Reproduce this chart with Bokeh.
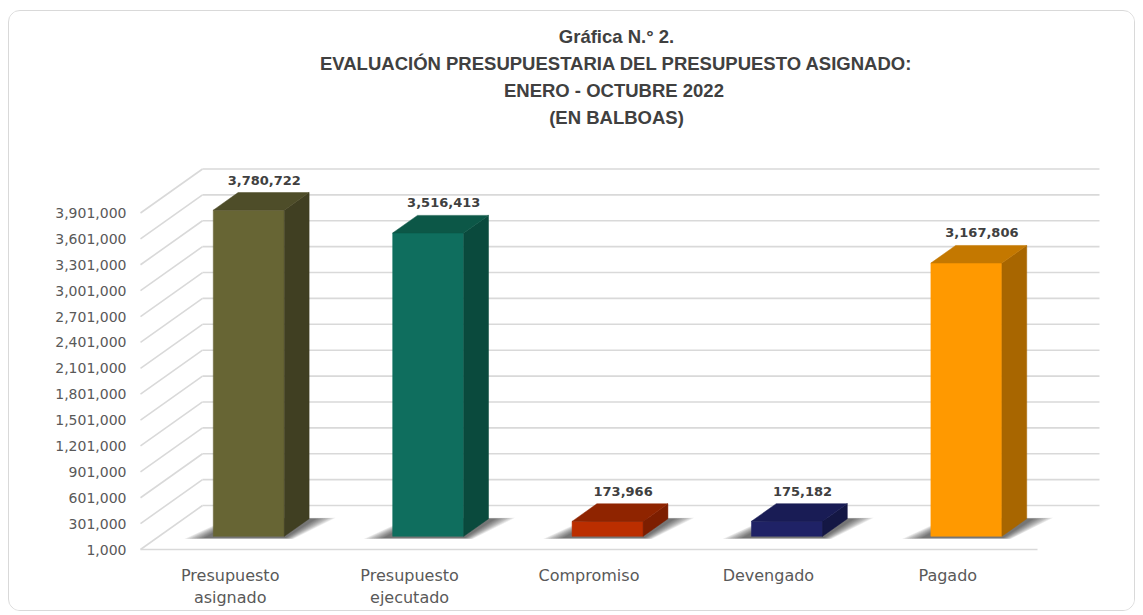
from bokeh.plotting import figure
from bokeh.models import Range1d, FixedTicker, NumeralTickFormatter, Title, ColumnDataSource
from bokeh.embed import file_html
from bokeh.resources import INLINE
from bokeh.core.properties import value

# ---------------- data ----------------
categories = ["Presupuesto asignado", "Presupuesto ejecutado", "Compromiso", "Devengado", "Pagado"]
category_labels = ["Presupuesto\nasignado", "Presupuesto\nejecutado", "Compromiso", "Devengado", "Pagado"]
amounts = [3780722, 3516413, 173966, 175182, 3167806]
front_colors = ["#676534", "#0f6e5e", "#bb2e00", "#1f2266", "#ff9900"]
side_colors = ["#403f22", "#0a4a3d", "#7d1e00", "#141744", "#a86600"]
top_colors = ["#4e4d29", "#0c5747", "#8f2400", "#191c55", "#c47800"]
y_ticks = [1000 + 300000 * k for k in range(14)]
title_lines = ["Gráfica N.° 2.",
               "EVALUACIÓN PRESUPUESTARIA DEL PRESUPUESTO ASIGNADO:",
               "ENERO -  OCTUBRE 2022",
               "(EN BALBOAS)"]

# ---------------- geometry (styles) ----------------
BASE = y_ticks[0]
PX_PER_CAT = 179.4
PX_PER_VAL = 336.5 / (y_ticks[-1] - y_ticks[0])
DXU = 62 / PX_PER_CAT          # depth shift in category units
DYV = 44 / PX_PER_VAL          # depth shift in value units
D0, D1 = 0.30, 0.70            # bar depth span
HALF = 0.198                   # half bar width

def P(x, v, d):
    return x + d * DXU, v + d * DYV

n = len(categories)
x_lo, x_hi = -0.5, n - 0.5

p = figure(width=1127, height=601, output_backend="svg", toolbar_location=None,
           x_range=Range1d(-0.5 - 8 / PX_PER_CAT, -0.5 + 960 / PX_PER_CAT),
           y_range=Range1d(BASE - 11 / PX_PER_VAL, BASE + 409 / PX_PER_VAL),
           min_border_left=123, min_border_right=36, min_border_top=129, min_border_bottom=52)
p.styles = {"margin-left": "8px", "margin-top": "10px", "border": "1px solid #d9d9d9",
            "border-radius": "12px", "overflow": "hidden"}
p.outline_line_color = None
p.background_fill_color = "white"
p.border_fill_color = "white"
p.grid.visible = False

# small spacer between the plot area and the title block
p.add_layout(Title(text=" ", text_font_size="7.5px", standoff=0), "above")
# titles (added bottom-up)
for line in reversed(title_lines):
    p.add_layout(Title(text=line, align="center", text_font_size="18.5px", text_font_style="bold",
                       text_color="#404040", text_font="Liberation Sans", standoff=4), "above")

# back wall gridlines
gl_xs, gl_ys, dg_xs, dg_ys = [], [], [], []
for t in y_ticks:
    xa, ya = P(x_lo, t, 1)
    xb, yb = P(x_hi, t, 1)
    gl_xs.append([xa, xb]); gl_ys.append([ya, yb])
    xf, yf = P(x_lo, t, 0)
    dg_xs.append([xf, xa]); dg_ys.append([yf, ya])
p.multi_line(gl_xs, gl_ys, line_color="#d9d9d9", line_width=1.6)
p.multi_line(dg_xs, dg_ys, line_color="#d9d9d9", line_width=1.6)
p.line([x_lo, x_hi], [BASE, BASE], line_color="#d9d9d9", line_width=1.6)

# soft shadows (stacked translucent layers)
for k in range(9):
    ex = 0.10 * (8 - k) / 8
    sx, sy = [], []
    for i in range(n):
        L, R = i - HALF, i + HALF
        pts = [P(L - 0.04 - ex, BASE, D0 - 0.04 - ex * 0.2),
               P(R + 0.02 + ex * 0.5, BASE, D0 - 0.04 - ex * 0.2),
               P(R + 0.04 + ex, BASE, D1 + ex * 0.2),
               P(L - ex * 0.5, BASE, D1 + ex * 0.2)]
        sx.append([q[0] for q in pts]); sy.append([q[1] for q in pts])
    p.patches(sx, sy, fill_color="black", fill_alpha=0.08, line_color=None)

# bars: front faces
fl, fr, fb, ft = [], [], [], []
for i, v in enumerate(amounts):
    x0, y0 = P(i - HALF, BASE, D0)
    x1, y1 = P(i + HALF, v, D0)
    fl.append(x0); fr.append(x1); fb.append(y0); ft.append(y1)
p.quad(left=fl, right=fr, bottom=fb, top=ft, fill_color=front_colors, line_color=front_colors, line_width=0.5)

# side faces
sx, sy = [], []
for i, v in enumerate(amounts):
    R = i + HALF
    pts = [P(R, BASE, D0), P(R, BASE, D1), P(R, v, D1), P(R, v, D0)]
    sx.append([q[0] for q in pts]); sy.append([q[1] for q in pts])
p.patches(sx, sy, fill_color=side_colors, line_color=side_colors, line_width=0.5)

# top faces
tx, ty = [], []
for i, v in enumerate(amounts):
    L, R = i - HALF, i + HALF
    pts = [P(L, v, D0), P(L, v, D1), P(R, v, D1), P(R, v, D0)]
    tx.append([q[0] for q in pts]); ty.append([q[1] for q in pts])
p.patches(tx, ty, fill_color=top_colors, line_color=top_colors, line_width=0.5)

# value labels
lab = ColumnDataSource(dict(
    x=[P(i, v, 0.55)[0] for i, v in enumerate(amounts)],
    y=[P(i, v, D1)[1] for i, v in enumerate(amounts)],
    t=[f"{v:,}" for v in amounts]))
p.text(x="x", y="y", text="t", source=lab, text_align="center", text_baseline="bottom",
       y_offset=-8, text_font=value("DejaVu Sans"), text_font_size="13px",
       text_font_style="bold", text_color="#404040")

# axes
p.yaxis.ticker = FixedTicker(ticks=y_ticks)
p.yaxis.formatter = NumeralTickFormatter(format="0,0")
p.yaxis.axis_line_color = None
p.yaxis.major_tick_line_color = None
p.yaxis.minor_tick_line_color = None
p.yaxis.major_tick_out = 0
p.yaxis.major_tick_in = 0
p.yaxis.major_label_standoff = 6
p.yaxis.major_label_text_font = "DejaVu Sans"
p.yaxis.major_label_text_font_size = "14px"
p.yaxis.major_label_text_color = "#595959"

p.xaxis.ticker = FixedTicker(ticks=list(range(n)))
p.xaxis.major_label_overrides = {i: s for i, s in enumerate(category_labels)}
p.xaxis.axis_line_color = None
p.xaxis.major_tick_line_color = None
p.xaxis.minor_tick_line_color = None
p.xaxis.major_tick_out = 0
p.xaxis.major_tick_in = 0
p.xaxis.major_label_standoff = 5
p.xaxis.major_label_text_font = "DejaVu Sans"
p.xaxis.major_label_text_font_size = "16px"
p.xaxis.major_label_text_color = "#595959"

open("out.html", "w").write(file_html(p, INLINE))
